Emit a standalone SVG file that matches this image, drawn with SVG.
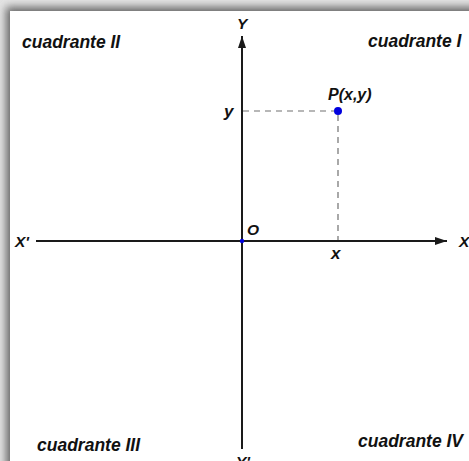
<svg xmlns="http://www.w3.org/2000/svg" width="469" height="461" viewBox="0 0 469 461">
<style>
.lbl{font-family:"Liberation Sans",Arial,sans-serif;font-weight:bold;font-style:italic;fill:#111;}
.q{font-size:17.5px;}
.a{font-size:15.5px;}
.axis{stroke:#1a1a1a;stroke-width:2;fill:none;}
.dash{stroke:#707070;stroke-width:1.2;stroke-dasharray:6,5;fill:none;}
</style>
<defs>
<filter id="sh" x="-10%" y="-10%" width="120%" height="120%">
<feGaussianBlur stdDeviation="4"/>
</filter>
<marker id="arr" viewBox="0 0 12 8" refX="12" refY="4" markerWidth="12" markerHeight="8" markerUnits="userSpaceOnUse" orient="auto">
<path d="M0,0 L12,4 L0,8 Z" fill="#1a1a1a"/>
</marker>
</defs>
<rect x="0" y="0" width="469" height="461" fill="#e4e4e4"/>
<rect x="6" y="7" width="480" height="470" fill="#666666" filter="url(#sh)"/>
<rect x="10" y="11" width="470" height="460" fill="#ffffff"/>
<g id="connectors">
<line class="axis" x1="36" y1="241" x2="447" y2="241" marker-end="url(#arr)"/>
<line class="axis" x1="242" y1="449" x2="242" y2="36" marker-end="url(#arr)"/>
<line class="dash" x1="243" y1="111" x2="334" y2="111"/>
<line class="dash" x1="338" y1="115" x2="338" y2="240"/>
</g>
<g id="origin">
<circle cx="242" cy="241" r="2.2" fill="#0000dd"/>
<text class="lbl a" x="247" y="235">O</text>
</g>
<g id="point-P">
<circle cx="338" cy="111" r="4" fill="#0000dd"/>
<text class="lbl a" x="328" y="100" style="font-size:16px">P(x,y)</text>
</g>
<g id="labels">
<text class="lbl a" x="237" y="29">Y</text>
<text class="lbl a" x="236" y="467">Y'</text>
<text class="lbl a" x="15" y="247">X'</text>
<text class="lbl a" x="459" y="247">X</text>
<text class="lbl a" x="224" y="117" style="font-size:17px">y</text>
<text class="lbl a" x="331" y="259" style="font-size:17px">x</text>
</g>
<g id="quadrants">
<text class="lbl q" x="22" y="48">cuadrante II</text>
<text class="lbl q" x="368" y="47">cuadrante I</text>
<text class="lbl q" x="37" y="451">cuadrante III</text>
<text class="lbl q" x="358" y="447">cuadrante IV</text>
</g>
</svg>
